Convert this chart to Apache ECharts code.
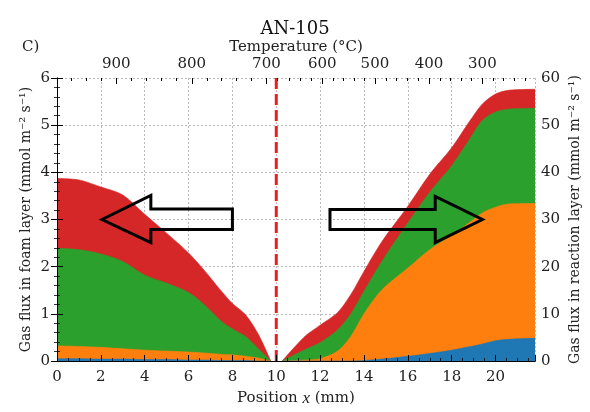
<!DOCTYPE html>
<html><head><meta charset="utf-8">
<script src="https://cdn.jsdelivr.net/npm/echarts@6/dist/echarts.min.js"></script>
<style>html,body{margin:0;padding:0;background:#fff}#c{width:590px;height:412px}</style>
</head><body><div id="c"></div>
<script>
// Foam layer (left, mmol m^-2 s^-1, 0-6): top edge of each stacked band
const foamX      = [0, 1, 2, 3, 4, 5, 6, 6.7, 7.5, 8, 8.6, 9.2, 9.75];
const foamRed    = [3.87, 3.84, 3.69, 3.52, 3.11, 2.71, 2.29, 1.93, 1.48, 1.22, 0.98, 0.55, 0];
const foamGreen  = [2.39, 2.36, 2.27, 2.11, 1.82, 1.65, 1.45, 1.20, 0.84, 0.68, 0.52, 0.25, 0];
const foamOrange = [0.32, 0.31, 0.29, 0.26, 0.23, 0.21, 0.19, 0.17, 0.14, 0.13, 0.10, 0.06, 0];
const foamBlue   = [0.05, 0.05, 0.04, 0.04, 0.03, 0.03, 0.02, 0.02, 0.01, 0.01, 0.01, 0, 0];
// Reaction layer (right, 0-60): top edge of each stacked band
const reacX      = [10.27, 11.3, 12, 12.8, 13.4, 14, 14.8, 16, 17, 18, 18.8, 19.4, 20, 20.6, 21.8];
const reacRed    = [0, 5.2, 7.6, 10.3, 14.1, 19.0, 25.2, 32.8, 39.6, 45.2, 50.7, 54.5, 56.6, 57.4, 57.6];
const reacGreen  = [0, 2.4, 3.9, 6.6, 10.0, 14.8, 21.0, 29.3, 35.8, 41.4, 46.9, 51.0, 52.8, 53.4, 53.6];
const reacOrange = [0, 0.2, 0.5, 2.1, 5.2, 10.0, 15.0, 19.7, 23.6, 26.6, 29.3, 31.4, 32.6, 33.3, 33.4];
const reacBlue   = [0, 0, 0, 0, 0, 0.1, 0.4, 1.0, 1.6, 2.3, 3.0, 3.6, 4.3, 4.6, 4.8];
// Top temperature axis (labelled ticks and their positions on the x scale)
const tempLabels = ['900', '800', '700', '600', '500', '400', '300'];
const tempPos    = [2.7, 6.15, 9.55, 12.1, 14.5, 16.97, 19.4];
const interfaceX = 10;
// Arrow outlines (data coordinates, left axis units)
const leftArrow  = [[2.05,3.0],[4.28,3.51],[4.28,3.22],[8.0,3.22],[8.0,2.79],[4.28,2.79],[4.28,2.51]];
const rightArrow = [[12.45,3.21],[17.25,3.21],[17.25,3.49],[19.4,3.0],[17.25,2.51],[17.25,2.79],[12.45,2.79]];

const COL = {blue:'#1f77b4', orange:'#ff7f0e', green:'#2ca02c', red:'#d62728'};
const FONT = 'DejaVu Serif';
const XMAX = 21.8;

// minor temperature ticks every 20 °C, placed between the labelled ticks
const tempMinor = [];
(function () {
  const n = tempPos.length;
  for (let i = 0; i < n - 1; i++) {
    const step = (tempPos[i + 1] - tempPos[i]) / 5;
    for (let k = 1; k < 5; k++) tempMinor.push(tempPos[i] + k * step);
  }
  const s0 = (tempPos[1] - tempPos[0]) / 5;
  for (let p = tempPos[0] - s0; p > 0.05; p -= s0) tempMinor.push(p);
  const s1 = (tempPos[n - 1] - tempPos[n - 2]) / 5;
  for (let p = tempPos[n - 1] + s1; p < XMAX - 0.05; p += s1) tempMinor.push(p);
})();

function area(xs, ys, color, yIdx, z) {
  return {
    type: 'line', xAxisIndex: 0, yAxisIndex: yIdx, z: z,
    data: xs.map((x, i) => [x, ys[i]]),
    symbol: 'none', smooth: 0.3,
    lineStyle: {width: 0.6, color: color}, areaStyle: {color: color, opacity: 1},
    silent: true, animation: false
  };
}
function arrowSeries(pts) {
  return {
    type: 'custom', xAxisIndex: 0, yAxisIndex: 0, z: 20, clip: false, silent: true,
    data: [[0, 0]], animation: false,
    renderItem: (params, api) => ({
      type: 'polygon',
      shape: {points: pts.map(p => api.coord(p))},
      style: {fill: 'none', stroke: '#000', lineWidth: 3, lineJoin: 'miter'}
    })
  };
}

const tick = (len) => ({show: true, inside: true, length: len, lineStyle: {color: '#000', width: 1}});
const minor = (n) => ({show: true, splitNumber: n, length: 3, lineStyle: {color: '#000', width: 0.8}});
const labelStyle = {fontFamily: FONT, fontSize: 15, color: '#222'};
const grid = {show: true, lineStyle: {color: '#aaa', type: [2, 2], width: 0.8}};
const spine = {show: true, lineStyle: {color: '#000', width: 1}};
const off = {show: false};

const chart = echarts.init(document.getElementById('c'), null, {renderer: 'canvas'});
chart.setOption({
  animation: false,
  backgroundColor: '#fff',
  title: {text: 'AN-105', left: 'center', top: 15,
    textStyle: {fontFamily: FONT, fontSize: 18, fontWeight: 'normal', color: '#111'}},
  graphic: [{type: 'text', left: 22, top: 40,
    style: {text: 'C)', fontFamily: FONT, fontSize: 15, fill: '#222'}}],
  grid: {left: 57, right: 50, top: 78, bottom: 44},
  xAxis: [
    // 0: data axis carrying the gridlines (drawn under the areas)
    {type: 'value', position: 'bottom', min: 0, max: XMAX, interval: 2, z: 0,
     axisLine: off, axisTick: off, axisLabel: off, splitLine: grid},
    // 1: temperature axis (top): line, labels, title
    {type: 'value', position: 'top', min: 0, max: XMAX, z: 30,
     axisLine: spine, axisTick: off,
     axisLabel: Object.assign({customValues: tempPos, margin: 6,
       formatter: v => { let k = 0, d = 1e9; tempPos.forEach((p, i) => { if (Math.abs(p - v) < d) { d = Math.abs(p - v); k = i; } }); return tempLabels[k]; }}, labelStyle),
     splitLine: off,
     name: 'Temperature (°C)', nameLocation: 'middle', nameGap: 23, nameMoveOverlap: false,
     nameTextStyle: {fontFamily: FONT, fontSize: 15, color: '#222'}},
    // 2: position axis (bottom) with ticks above the areas
    {type: 'value', position: 'bottom', min: 0, max: XMAX, interval: 2, z: 30,
     axisLine: spine, axisTick: tick(6), minorTick: minor(4),
     axisLabel: Object.assign({margin: 9, showMaxLabel: false}, labelStyle),
     splitLine: off,
     name: 'Position {i|x} (mm)', nameLocation: 'middle', nameGap: 29, nameMoveOverlap: false,
     nameTextStyle: {fontFamily: FONT, fontSize: 15, color: '#222',
       rich: {i: {fontFamily: 'Liberation Serif', fontStyle: 'italic', fontSize: 17, color: '#222'}}}},
    // 3: minor temperature ticks
    {type: 'value', position: 'top', min: 0, max: XMAX, z: 30,
     axisLine: off, axisLabel: off, splitLine: off,
     axisTick: Object.assign({customValues: tempMinor}, tick(3))},
    // 4: major temperature ticks
    {type: 'value', position: 'top', min: 0, max: XMAX, z: 30,
     axisLine: off, axisLabel: off, splitLine: off,
     axisTick: Object.assign({customValues: tempPos}, tick(6))}
  ],
  yAxis: [
    // 0: foam-layer data axis with gridlines
    {type: 'value', position: 'left', min: 0, max: 6, interval: 1, z: 0,
     axisLine: off, axisTick: off, axisLabel: off, splitLine: grid},
    // 1: reaction-layer axis (right)
    {type: 'value', position: 'right', min: 0, max: 60, interval: 10, z: 30,
     axisLine: spine, axisTick: tick(6), minorTick: minor(5),
     axisLabel: Object.assign({margin: 6}, labelStyle),
     splitLine: off,
     name: 'Gas flux in reaction layer (mmol m⁻² s⁻¹)', nameLocation: 'middle', nameGap: 33,
     nameRotate: 90, nameMoveOverlap: false,
     nameTextStyle: {fontFamily: FONT, fontSize: 14, color: '#222'}},
    // 2: foam-layer ticks/labels (left)
    {type: 'value', position: 'left', min: 0, max: 6, interval: 1, z: 30,
     axisLine: spine, axisTick: tick(6), minorTick: minor(5),
     axisLabel: Object.assign({margin: 7}, labelStyle),
     splitLine: off,
     name: 'Gas flux in foam layer (mmol m⁻² s⁻¹)', nameLocation: 'middle', nameGap: 24, nameMoveOverlap: false,
     nameTextStyle: {fontFamily: FONT, fontSize: 14, color: '#222'}}
  ],
  series: [
    area(foamX, foamRed, COL.red, 0, 2),
    area(foamX, foamGreen, COL.green, 0, 3),
    area(foamX, foamOrange, COL.orange, 0, 4),
    area(foamX, foamBlue, COL.blue, 0, 5),
    area(reacX, reacRed, COL.red, 1, 2),
    area(reacX, reacGreen, COL.green, 1, 3),
    area(reacX, reacOrange, COL.orange, 1, 4),
    area(reacX, reacBlue, COL.blue, 1, 5),
    {type: 'line', xAxisIndex: 0, yAxisIndex: 0, z: 10, symbol: 'none', silent: true,
     data: [[interfaceX, 0], [interfaceX, 6]],
     lineStyle: {color: '#ee1c1c', width: 3, type: [11, 5]}},
    arrowSeries(leftArrow),
    arrowSeries(rightArrow)
  ]
});
</script></body></html>
